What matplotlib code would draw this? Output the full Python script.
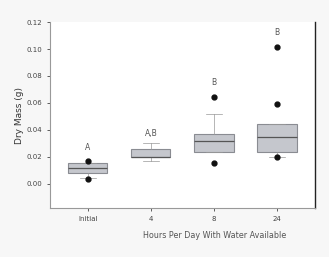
import matplotlib.pyplot as plt

groups = ["Initial", "4", "8", "24"]
q1 = [0.0082, 0.0195, 0.0232, 0.0232]
med = [0.0120, 0.0200, 0.0315, 0.0344]
q3 = [0.0150, 0.0255, 0.0367, 0.0442]
whislo = [0.0040, 0.0165, 0.0232, 0.0195]
whishi = [0.0150, 0.0300, 0.0517, 0.0442]
fliers = [[0.0172, 0.0037], [], [0.0157, 0.0644], [0.0195, 0.0595, 0.1015]]
letters = ["A", "A,B", "B", "B"]
letter_y = [0.0270, 0.0375, 0.0750, 0.1120]

stats = []
for i in range(len(groups)):
    stats.append(dict(label=groups[i], q1=q1[i], med=med[i], q3=q3[i],
                      whislo=whislo[i], whishi=whishi[i], fliers=fliers[i]))

fig = plt.figure(figsize=(3.29, 2.57), dpi=100, facecolor="#f7f7f7")
ax = fig.add_axes([0.152, 0.191, 0.805, 0.723])

ax.bxp(stats, positions=[1, 2, 3, 4], widths=0.62, patch_artist=True,
       boxprops=dict(facecolor="#c5c7cd", edgecolor="#8a8c92", linewidth=0.8),
       medianprops=dict(color="#555555", linewidth=0.9),
       whiskerprops=dict(color="#999999", linewidth=0.5),
       capprops=dict(color="#999999", linewidth=0.5),
       capwidths=0.25,
       flierprops=dict(marker="o", markerfacecolor="#111111",
                       markeredgecolor="#111111", markersize=3.5))

for i, t in enumerate(letters):
    ax.text(i + 1, letter_y[i], t, ha="center", va="center", fontsize=5.5, color="#555555")

ax.set_xlim(0.4, 4.6)
ax.set_ylim(-0.018, 0.12)
ax.set_yticks([0.00, 0.02, 0.04, 0.06, 0.08, 0.10, 0.12])
ax.set_yticklabels(["0.00", "0.02", "0.04", "0.06", "0.08", "0.10", "0.12"])
ax.tick_params(labelsize=5, colors="#444444", length=2, width=0.6)
ax.set_ylabel("Dry Mass (g)", fontsize=6.5, color="#333333", labelpad=2)
ax.set_xlabel("Hours Per Day With Water Available", fontsize=5.8, color="#555555")
ax.xaxis.set_label_coords(0.62, -0.125)
ax.spines["top"].set_visible(False)
ax.spines["left"].set_color("#999999")
ax.spines["bottom"].set_color("#999999")
ax.spines["right"].set_color("#222222")
ax.spines["right"].set_linewidth(1.0)

fig.savefig("out.png", dpi=100, facecolor=fig.get_facecolor())
